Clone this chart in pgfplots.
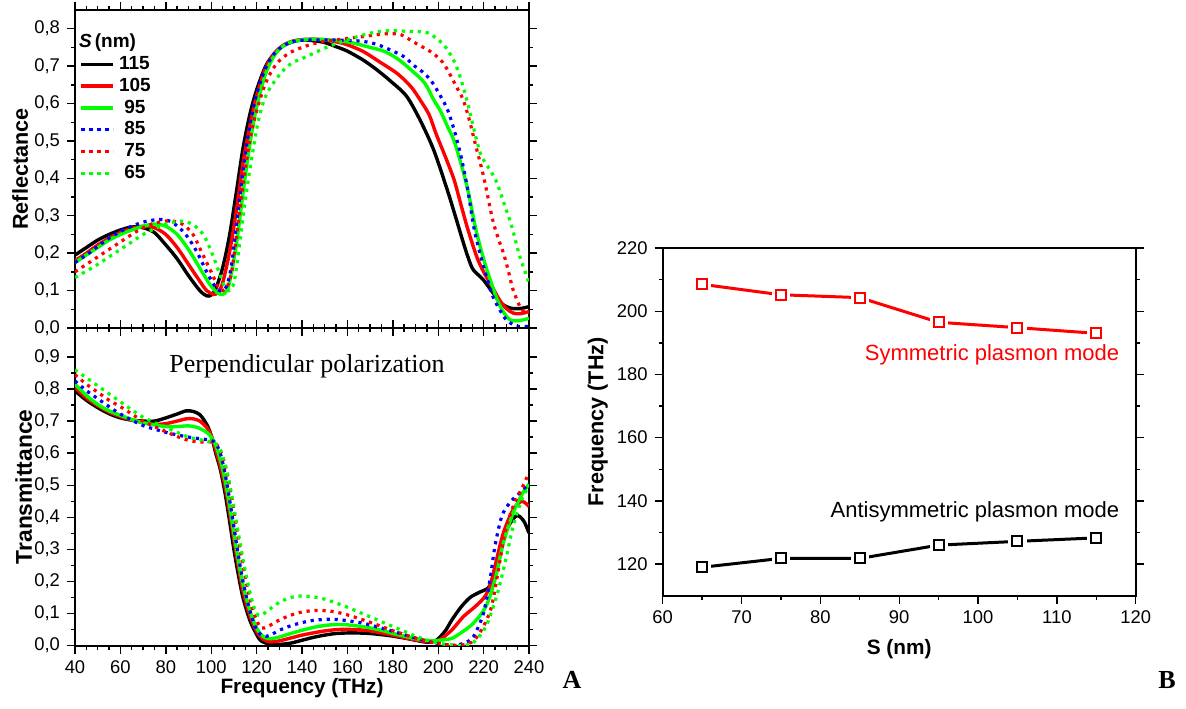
\documentclass[border=0pt]{standalone}
\usepackage{fontspec}
\setmainfont{Liberation Sans}
\newfontfamily\timesfont{Liberation Serif}
\usepackage{pgfplots}
\pgfplotsset{compat=1.18}
\definecolor{pgreen}{RGB}{0,255,0}
\definecolor{pred}{RGB}{255,0,0}
\definecolor{pblue}{RGB}{0,0,255}
\pgfplotsset{
  base/.style={scale only axis, anchor=south west,
    axis line style={line width=0.9pt},
    tick style={line width=0.7pt, black},
    major tick length=4pt, minor tick length=2pt,
    tick align=outside,
    tick label style={font=\fontsize{9.2}{10}\selectfont},
    label style={font=\bfseries\fontsize{10.4}{12}\selectfont},
    /pgf/number format/assume math mode=true,
  },
  afmt/.style={yticklabel style={/pgf/number format/.cd, use comma, fixed, fixed zerofill, precision=1}},
  sol/.style={line width=1.7pt, smooth, tension=0.5},
  dot/.style={line width=1.6pt, smooth, tension=0.5, dash pattern=on 1.6pt off 2.4pt},
}
\begin{document}
\begin{tikzpicture}
\useasboundingbox (0,0) rectangle (593pt,354pt);
% ---------- Upper: Reflectance ----------
\begin{axis}[base, afmt, at={(37.5pt,190pt)}, width=227pt, height=159pt,
  xmin=40, xmax=240, ymin=0, ymax=0.85,
  xtick={40,60,...,240}, minor x tick num=3, xticklabels={},
  ytick={0,0.1,0.2,0.3,0.4,0.5,0.6,0.7,0.8}, minor y tick num=1,
  ylabel={Reflectance},
  ylabel style={font=\bfseries\fontsize{10.8}{12}\selectfont, at={(axis description cs:-0.121,0.5)}, anchor=center},
  legend style={at={(axis description cs:0.005,0.945)}, anchor=north west, draw=none, fill=none,
    font=\bfseries\fontsize{9.5}{10}\selectfont, row sep=-1.2pt, inner sep=1pt},
  legend cell align=left,
  legend image code/.code={\draw[#1] (0pt,0pt) -- (16pt,0pt);},
]
\addlegendimage{empty legend}
\addlegendentry{\hspace{-20pt}\textit{S}\,(nm)}
\addplot[sol, black] coordinates {(40,0.195) (45,0.215) (50,0.235) (55,0.25) (60,0.262) (65,0.27) (70,0.268) (75,0.255) (80,0.222) (85,0.185) (90,0.14) (95,0.1) (98,0.086) (100,0.088) (102,0.105) (105,0.16) (108,0.245) (111,0.36) (114,0.48) (117,0.57) (120,0.636) (124,0.7) (128,0.735) (132,0.755) (136,0.765) (140,0.77) (145,0.768) (150,0.763) (155,0.752) (160,0.74) (167,0.716) (173,0.69) (179,0.66) (186,0.62) (192,0.556) (198,0.476) (204,0.369) (208,0.29) (212,0.21) (215,0.16) (218,0.14) (220,0.128) (224,0.095) (228,0.065) (232,0.053) (236,0.052) (240,0.057)};
\addlegendentry{115}
\addplot[sol, pred] coordinates {(40,0.18) (45,0.2) (50,0.222) (55,0.24) (60,0.255) (65,0.266) (70,0.272) (75,0.268) (80,0.25) (85,0.215) (90,0.17) (95,0.125) (98,0.1) (101,0.09) (103,0.095) (105,0.12) (108,0.2) (111,0.31) (114,0.44) (117,0.54) (120,0.62) (124,0.695) (128,0.735) (132,0.757) (136,0.767) (140,0.771) (145,0.772) (150,0.77) (155,0.765) (160,0.757) (167,0.739) (174,0.712) (182,0.68) (188,0.645) (192,0.61) (196,0.57) (199,0.52) (203,0.46) (207,0.396) (210,0.33) (213,0.265) (217,0.19) (220,0.15) (223,0.119) (227,0.075) (230,0.052) (233,0.04) (236,0.038) (240,0.044)};
\addlegendentry{105}
\addplot[sol, pgreen] coordinates {(40,0.175) (45,0.195) (50,0.215) (55,0.235) (60,0.25) (65,0.262) (70,0.272) (75,0.278) (80,0.272) (85,0.25) (90,0.21) (95,0.16) (99,0.12) (102,0.098) (104,0.09) (106,0.093) (108,0.12) (111,0.22) (114,0.36) (117,0.49) (120,0.59) (124,0.68) (128,0.73) (132,0.755) (136,0.766) (140,0.77) (145,0.772) (150,0.771) (160,0.765) (170,0.75) (176,0.74) (182,0.72) (188,0.69) (194,0.655) (198,0.61) (201,0.58) (204,0.54) (207,0.5) (210,0.44) (213,0.37) (217,0.253) (221,0.164) (224,0.11) (226,0.075) (229,0.04) (232,0.021) (236,0.02) (240,0.026)};
\addlegendentry{\ 95}
\addplot[dot, pblue] coordinates {(40,0.175) (45,0.195) (50,0.218) (55,0.24) (60,0.258) (65,0.272) (70,0.283) (75,0.289) (78,0.29) (82,0.285) (86,0.268) (90,0.24) (94,0.2) (98,0.15) (101,0.118) (103,0.102) (105,0.1) (107,0.115) (109,0.17) (111,0.27) (114,0.42) (117,0.54) (120,0.625) (124,0.695) (128,0.735) (132,0.755) (136,0.766) (140,0.769) (150,0.77) (160,0.769) (167,0.766) (173,0.758) (179,0.743) (185,0.725) (189,0.703) (193,0.685) (197,0.66) (201,0.62) (204,0.585) (207,0.53) (210,0.46) (213,0.37) (216,0.26) (220,0.164) (224,0.086) (227,0.05) (230,0.022) (234,0.006) (237,0.004) (240,0.004)};
\addlegendentry{\ 85}
\addplot[dot, pred] coordinates {(40,0.15) (45,0.17) (50,0.19) (55,0.21) (60,0.23) (65,0.25) (70,0.268) (75,0.28) (80,0.286) (84,0.285) (88,0.275) (92,0.25) (96,0.2) (100,0.15) (103,0.11) (105,0.1) (107,0.11) (109,0.15) (111,0.24) (114,0.38) (117,0.5) (120,0.58) (124,0.655) (128,0.7) (132,0.725) (136,0.74) (140,0.75) (145,0.76) (150,0.766) (160,0.774) (167,0.779) (173,0.784) (179,0.787) (184,0.783) (189,0.765) (194,0.748) (198,0.733) (202,0.71) (205,0.68) (208,0.645) (211,0.61) (214,0.55) (216,0.5) (220,0.405) (224,0.289) (227,0.23) (229,0.195) (231,0.15) (233,0.102) (236,0.057) (238,0.042) (240,0.039)};
\addlegendentry{\ 75}
\addplot[dot, pgreen] coordinates {(40,0.135) (45,0.152) (50,0.17) (55,0.19) (60,0.21) (65,0.23) (70,0.25) (75,0.265) (80,0.278) (85,0.285) (89,0.284) (93,0.272) (97,0.245) (101,0.19) (104,0.14) (106,0.11) (108,0.1) (110,0.12) (112,0.2) (115,0.34) (118,0.46) (121,0.56) (124,0.62) (128,0.66) (132,0.69) (136,0.71) (140,0.72) (145,0.734) (150,0.748) (155,0.76) (160,0.77) (165,0.78) (170,0.788) (175,0.793) (180,0.795) (186,0.793) (192,0.792) (196,0.788) (199,0.775) (202,0.76) (205,0.735) (208,0.7) (211,0.645) (213,0.6) (215,0.55) (217,0.5) (219,0.46) (221,0.44) (223,0.42) (225,0.4) (227,0.369) (230,0.315) (232,0.28) (234,0.235) (236,0.19) (238,0.155) (240,0.12)};
\addlegendentry{\ 65}
\end{axis}
% ---------- Lower: Transmittance ----------
\begin{axis}[base, afmt, at={(37.5pt,31.15pt)}, width=227pt, height=158.85pt,
  xmin=40, xmax=240, ymin=0, ymax=0.99,
  xtick={40,60,...,240}, minor x tick num=3,
  ytick={0,0.1,0.2,0.3,0.4,0.5,0.6,0.7,0.8,0.9}, minor y tick num=1,
  ylabel={Transmittance}, xlabel={Frequency (THz)},
  ylabel style={font=\bfseries\fontsize{11.4}{12}\selectfont, at={(axis description cs:-0.113,0.5)}, anchor=center},
  xlabel style={at={(axis description cs:0.5,-0.132)}, anchor=center},
]
\addplot[sol, black] coordinates {(40,0.794) (45,0.765) (50,0.742) (55,0.723) (60,0.71) (65,0.703) (70,0.7) (75,0.7) (80,0.71) (85,0.722) (89,0.732) (92,0.73) (95,0.72) (98,0.69) (100,0.655) (102,0.6) (104,0.55) (106,0.48) (108,0.393) (110,0.3) (112,0.22) (114,0.15) (117,0.08) (120,0.035) (122,0.015) (126,0.004) (130,0.004) (135,0.008) (140,0.017) (145,0.026) (150,0.033) (155,0.038) (162,0.04) (170,0.038) (178,0.032) (185,0.024) (190,0.017) (195,0.011) (199,0.016) (203,0.045) (206,0.08) (210,0.12) (214,0.15) (218,0.166) (222,0.18) (224,0.21) (226.5,0.278) (230,0.36) (234,0.403) (236,0.402) (238,0.385) (240,0.351)};
\addplot[sol, pred] coordinates {(40,0.805) (45,0.772) (50,0.748) (55,0.728) (60,0.714) (65,0.703) (70,0.695) (75,0.69) (80,0.692) (85,0.7) (89,0.707) (92,0.707) (95,0.7) (98,0.68) (100,0.655) (102,0.61) (104,0.56) (106,0.5) (108,0.42) (110,0.33) (112,0.245) (114,0.17) (117,0.095) (120,0.045) (123,0.02) (126,0.012) (130,0.015) (135,0.024) (140,0.033) (145,0.04) (150,0.046) (155,0.05) (160,0.051) (168,0.048) (175,0.04) (182,0.03) (190,0.018) (197,0.012) (201,0.02) (206,0.049) (211,0.09) (215.5,0.117) (219,0.14) (221,0.158) (223,0.19) (225,0.247) (228.7,0.351) (233,0.424) (236.8,0.45) (240,0.434)};
\addplot[sol, pgreen] coordinates {(40,0.815) (45,0.78) (50,0.752) (55,0.732) (60,0.718) (65,0.705) (70,0.695) (75,0.688) (80,0.683) (85,0.683) (90,0.685) (94,0.68) (98,0.665) (100,0.65) (102,0.625) (104,0.58) (106,0.52) (108,0.44) (110,0.35) (112,0.265) (114,0.19) (117,0.11) (120,0.055) (123,0.028) (126,0.022) (130,0.027) (135,0.038) (140,0.048) (145,0.057) (150,0.063) (155,0.066) (160,0.065) (168,0.058) (175,0.048) (182,0.035) (190,0.022) (197,0.015) (201,0.017) (206,0.023) (210,0.04) (215.5,0.07) (221,0.122) (225,0.205) (228.7,0.32) (233,0.414) (237.3,0.477) (240,0.503)};
\addplot[dot, pblue] coordinates {(40,0.825) (45,0.795) (50,0.77) (55,0.745) (60,0.722) (65,0.703) (70,0.686) (75,0.675) (80,0.665) (85,0.657) (90,0.65) (95,0.645) (100,0.64) (102,0.63) (104,0.6) (106,0.54) (108,0.46) (110,0.37) (112,0.28) (114,0.2) (117,0.11) (120,0.05) (123,0.03) (126,0.033) (130,0.048) (135,0.062) (140,0.072) (145,0.079) (150,0.082) (155,0.082) (160,0.078) (167,0.07) (174,0.057) (180,0.045) (187,0.03) (193,0.018) (198,0.01) (203,0.003) (208,0.002) (212,0.01) (215.5,0.028) (219.9,0.1) (222.8,0.205) (225,0.31) (228,0.403) (231.6,0.446) (236,0.477) (240,0.505)};
\addplot[dot, pred] coordinates {(40,0.845) (45,0.815) (50,0.79) (55,0.765) (60,0.745) (65,0.722) (70,0.7) (75,0.683) (80,0.667) (85,0.652) (90,0.64) (95,0.635) (100,0.635) (102,0.63) (104,0.61) (106,0.565) (108,0.5) (110,0.42) (112,0.33) (114,0.25) (116,0.18) (118,0.12) (120,0.08) (122,0.055) (125,0.06) (130,0.08) (135,0.095) (140,0.105) (146,0.11) (152,0.108) (158,0.1) (165,0.085) (172,0.068) (178,0.052) (185,0.035) (192,0.02) (198,0.01) (204,0.003) (209,0.001) (213,0.006) (216,0.018) (219.9,0.06) (223.5,0.122) (226.5,0.236) (229.4,0.351) (233,0.434) (237.3,0.497) (240,0.54)};
\addplot[dot, pgreen] coordinates {(40,0.86) (45,0.835) (50,0.81) (55,0.785) (60,0.76) (65,0.735) (70,0.712) (75,0.695) (80,0.68) (85,0.665) (90,0.65) (95,0.642) (100,0.635) (102,0.628) (104,0.61) (106,0.57) (108,0.51) (110,0.43) (112,0.35) (114,0.27) (116,0.2) (118,0.14) (120,0.1) (122,0.095) (125,0.11) (130,0.135) (135,0.15) (140,0.155) (145,0.152) (150,0.145) (155,0.133) (160,0.12) (165,0.105) (170,0.09) (175,0.075) (180,0.06) (185,0.045) (190,0.03) (195,0.018) (200,0.008) (205,0.003) (210,0.001) (215.5,0.01) (221,0.06) (225.7,0.153) (229.4,0.257) (233,0.372) (236.8,0.455) (240,0.497)};
\node[font=\timesfont\fontsize{13}{15}\selectfont] at (axis cs:142.2,0.872) {Perpendicular polarization};
\end{axis}
% ---------- Panel B ----------
\begin{axis}[base, at={(331.35pt,56.15pt)}, width=236.5pt, height=173.85pt,
  xmin=60, xmax=120, ymin=110, ymax=220,
  xtick={60,70,...,120}, minor x tick num=1, xtick pos=left,
  ytick={120,140,...,220}, minor y tick num=1,
  xlabel={S (nm)}, ylabel={Frequency (THz)},
  ylabel style={font=\bfseries\fontsize{10.8}{12}\selectfont, at={(axis description cs:-0.137,0.5)}, anchor=center},
  xlabel style={at={(axis description cs:0.5,-0.155)}, anchor=center},
]
\addplot[pred, line width=1.5pt] coordinates {(65,208.5) (75,205.2) (85,204.3) (95,196.5) (105,194.8) (115,193)};
\addplot[black, line width=1.5pt] coordinates {(65,119) (75,121.8) (85,121.8) (95,126) (105,127.2) (115,128.3)};
\addplot[only marks, mark=square*, mark size=4.3pt, mark options={white, draw=white}] coordinates {(65,208.5) (75,205.2) (85,204.3) (95,196.5) (105,194.8) (115,193)};
\addplot[only marks, mark=square*, mark size=4.3pt, mark options={white, draw=white}] coordinates {(65,119) (75,121.8) (85,121.8) (95,126) (105,127.2) (115,128.3)};
\addplot[only marks, mark=square, mark size=2.5pt, mark options={pred, line width=1pt, solid}] coordinates {(65,208.5) (75,205.2) (85,204.3) (95,196.5) (105,194.8) (115,193)};
\addplot[only marks, mark=square, mark size=2.5pt, mark options={black, line width=1pt, solid}] coordinates {(65,119) (75,121.8) (85,121.8) (95,126) (105,127.2) (115,128.3)};
\node[pred, anchor=east, font=\fontsize{11}{13}\selectfont] at (axis cs:118.8,186.2) {Symmetric plasmon mode};
\node[black, anchor=east, font=\fontsize{11}{13}\selectfont] at (axis cs:118.8,136.6) {Antisymmetric plasmon mode};
\end{axis}
\node[font=\timesfont\bfseries\fontsize{13}{15}\selectfont] at (286pt,14pt) {A};
\node[font=\timesfont\bfseries\fontsize{13}{15}\selectfont] at (583.5pt,14pt) {B};
\end{tikzpicture}
\end{document}
